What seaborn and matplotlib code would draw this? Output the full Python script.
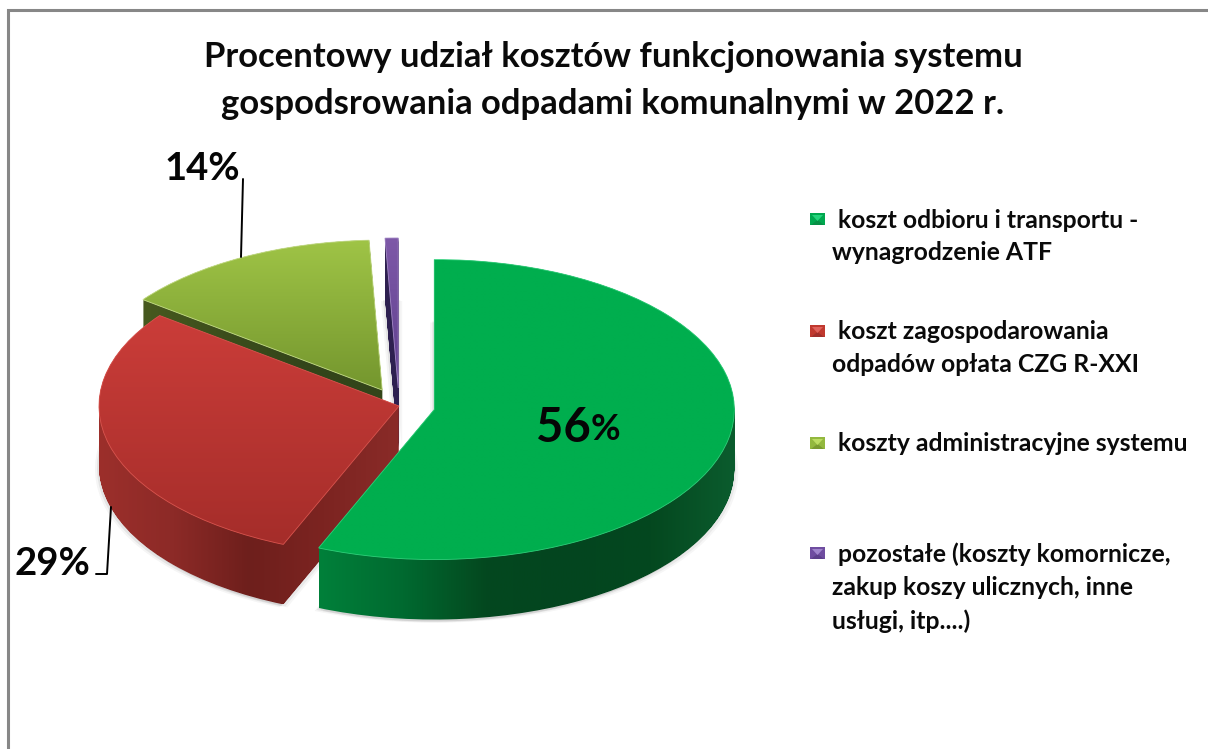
import numpy as np
import seaborn as sns
import matplotlib.pyplot as plt
from matplotlib.path import Path
from matplotlib.patches import PathPatch, Polygon

title = "Procentowy udział kosztów funkcjonowania systemu\ngospodsrowania odpadami komunalnymi w 2022 r."
values = [56.3, 29.0, 14.0, 0.7]
explode = [0.12, 0.0, 0.12, 0.12]
legend_labels = [
    " koszt odbioru i transportu -\nwynagrodzenie ATF",
    " koszt zagospodarowania\nodpadów opłata CZG R-XXI",
    " koszty administracyjne systemu",
    " pozostałe (koszty komornicze,\nzakup koszy ulicznych, inne\nusługi, itp....)",
]

# colours: top face (top to bottom) and side wall (left to right)
top_colors = [["#00ae4e", "#00ae4e"], ["#cb3d39", "#a52d2a"], ["#9fc446", "#74962e"], ["#7e59a8", "#5e3f8e"]]
side_colors = [
    ["#00803a", "#006a30", "#04481f", "#03451f", "#04481f", "#0b5c2e"],
    ["#9c2f2b", "#8c2a27", "#6e1f1c", "#7c2421", "#8a2b28"],
    ["#47591f", "#3c4e1c", "#33451a", "#33451a"],
    ["#2e2050", "#2e2050"],
]
rim_colors = ["#2fd07a", "#d9544e", "#c8e08a", "#a58ac8"]
marker_colors = [("#00a84f", "#078f45", "#25d47c"), ("#c0392f", "#a02f2b", "#e0625c"),
                 ("#93b83e", "#7a9a30", "#bcdc62"), ("#6f4da0", "#5c3f8a", "#a085cc")]

# pie centre and radii on the canvas, in pixels
cx, cy, rx, ry, depth = 399, 406, 300, 150, 60
W, H = 1208, 749


def px(x, y):
    return (x - cx) / rx, (cy - y) / ry


sns.set_theme(style="white")
plt.rcParams['font.family'] = ['Lato', 'DejaVu Sans']
plt.rcParams['font.weight'] = 'bold'

fig = plt.figure(figsize=(W / 100, H / 100), dpi=100)
ax = fig.add_axes([0, 0, 1, 1])

wedges, _ = ax.pie(values, explode=explode, startangle=90, counterclock=False)
ax.set_aspect('auto')

# draw slices back to front
for n, i in enumerate([2, 3, 1, 0]):
    w = wedges[i]
    base = 2 + n * 3
    verts = w.get_patch_transform().transform_path(w.get_path())
    d = depth / ry

    # soft shadow of the bottom of the slice
    for dx, dy, a in [(-4, 3, 0.06), (-2, 2, 0.10), (2, 2, 0.08), (4, 3, 0.05)]:
        sh = Path(verts.vertices + [dx / rx, -d - dy / ry], verts.codes)
        ax.add_patch(PathPatch(sh, fc="#555555", ec="none", alpha=a, zorder=base))

    # side wall, swept down from the top face
    sweep = Path.make_compound_path(*[Path(verts.vertices - [0, s], verts.codes)
                                      for s in np.linspace(0, d, 61)])
    x0, y0, x1, y1 = sweep.get_extents().extents
    cmap = sns.blend_palette(side_colors[i], as_cmap=True)
    im = ax.imshow(np.linspace(0, 1, 256)[None, :], extent=(x0, x1, y0, y1), aspect='auto',
                   cmap=cmap, interpolation='bilinear', zorder=base + 0.5)
    im.set_clip_path(sweep, transform=ax.transData)

    # top face
    x0, y0, x1, y1 = verts.get_extents().extents
    cmap = sns.blend_palette(top_colors[i], as_cmap=True)
    im = ax.imshow(np.linspace(0, 1, 256)[:, None], extent=(x0, x1, y0, y1), aspect='auto', origin='upper',
                   cmap=cmap, interpolation='bilinear', zorder=base + 1)
    im.set_clip_path(verts, transform=ax.transData)
    w.set(facecolor="none", edgecolor=rim_colors[i], linewidth=0.6, zorder=base + 1.5)

ax.set_xlim(-cx / rx, (W - cx) / rx)
ax.set_ylim((cy - H) / ry, cy / ry)
ax.axis('off')

# frame of the picture
fx, fy = zip(px(7.5, H), px(7.5, 10.5), px(W, 10.5))
ax.plot(fx, fy, color="#878787", lw=2.2, zorder=1, solid_joinstyle='miter')

# data labels and leader lines
ax.text(*px(613, 80.5), title, ha='center', va='center', fontsize=24.9, color="#0a0a0a", linespacing=1.6, zorder=30)
ax.text(*px(591, 428), f"{values[0]:.0f}", ha='right', va='center', fontsize=34, color="#050505", zorder=30)
ax.text(*px(591, 430), "%", ha='left', va='center', fontsize=26, color="#050505", zorder=30)
ax.text(*px(240, 169), f"{values[2]:.0f}%", ha='right', va='center', fontsize=27.5, color="#050505", zorder=30)
ax.text(*px(90, 564), f"{values[1]:.0f}%", ha='right', va='center', fontsize=27.5, color="#050505", zorder=30)
lx, ly = zip(px(243, 179), px(241, 257))
ax.plot(lx, ly, color="black", lw=1.4, zorder=30)
lx, ly = zip(px(111, 507), px(107, 574), px(96, 574))
ax.plot(lx, ly, color="black", lw=1.4, zorder=30)

# legend
for lab, y, (mid, dark, light) in zip(legend_labels, [219, 331, 443, 553], marker_colors):
    ax.text(*px(832, y - 10.5), lab, ha='left', va='top', fontsize=17.8, color="#0a0a0a", linespacing=1.52, zorder=30)
    x0, x1, y0, y1 = 810, 825, y - 6, y + 6
    xm = (x0 + x1) / 2
    ax.add_patch(Polygon([px(x0, y0), px(x1, y0), px(x1, y1), px(x0, y1)], fc=mid, ec="none", zorder=30))
    ax.add_patch(Polygon([px(x0 + 1, y1), px(x1 - 1, y1), px(xm, y + 1)], fc=dark, ec="none", zorder=31))
    ax.add_patch(Polygon([px(x0 + 2, y0 + 2), px(x1 - 2, y0 + 2), px(xm, y + 2)], fc=light, ec="none", zorder=31))

fig.savefig("out.png", dpi=100, facecolor="white")
